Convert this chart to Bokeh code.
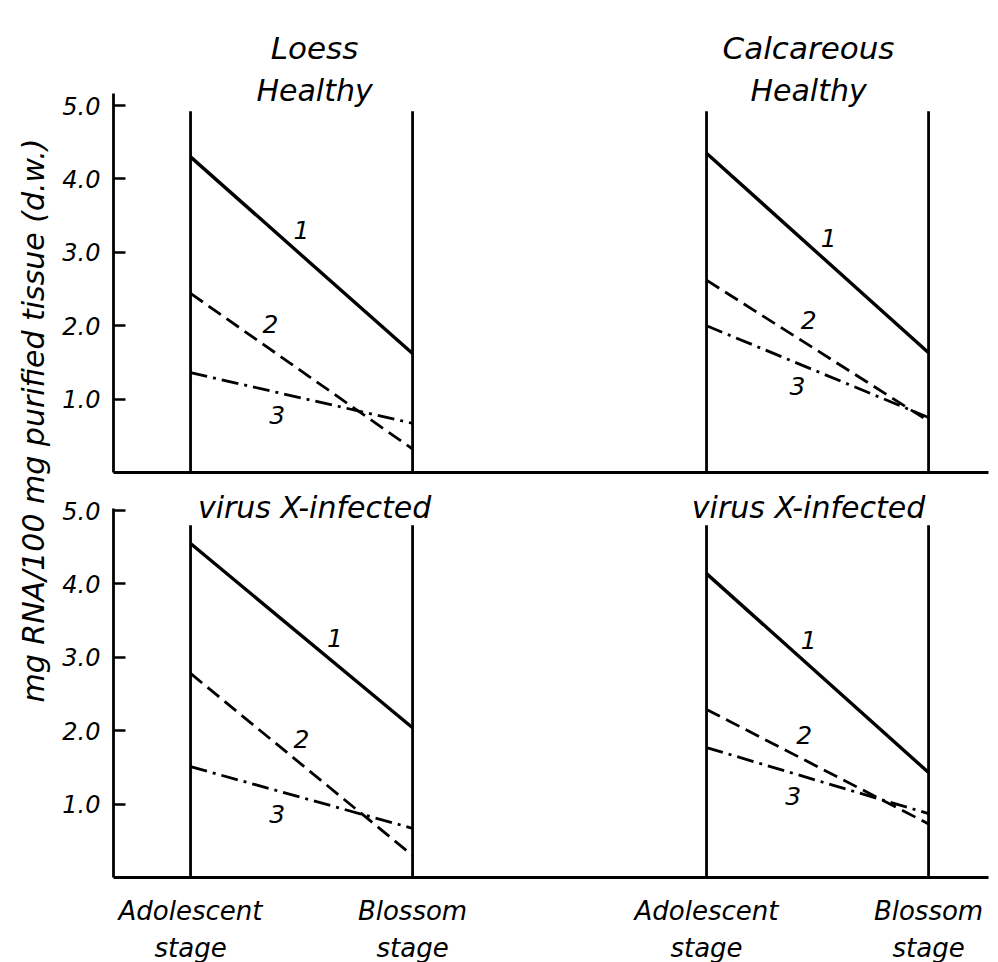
import math
from bokeh.plotting import figure
from bokeh.layouts import row, column
from bokeh.models import Range1d, FixedTicker, NumeralTickFormatter
from bokeh.core.properties import value
from bokeh.embed import file_html
from bokeh.resources import INLINE

# ---------------- data ----------------
soils = ["Loess", "Calcareous"]
conditions = ["Healthy", "virus X-infected"]
stages = ["Adolescent\nstage", "Blossom\nstage"]
series_names = ["1", "2", "3"]
y_ticks = [1.0, 2.0, 3.0, 4.0, 5.0]
y_label = "mg RNA/100 mg purified tissue (d.w.)"

# mg RNA / 100 mg at [adolescent, blossom] for series 1, 2, 3
loess_healthy = [[4.30, 1.62], [2.44, 0.32], [1.36, 0.67]]
calc_healthy = [[4.35, 1.63], [2.62, 0.70], [2.00, 0.75]]
loess_infected = [[4.55, 2.04], [2.78, 0.30], [1.51, 0.67]]
calc_infected = [[4.14, 1.43], [2.29, 0.73], [1.77, 0.87]]

# ---------------- layout / style constants ----------------
FONT = "DejaVu Sans"
soil_offset = [0.0, 2.324]          # x offset of each soil block
stage_pos = [0.0, 1.0]              # x position of stage within block
stage_line_top = [4.92, 4.80]       # height of stage verticals per panel
axis_top = [5.16, 5.03]             # extent of the drawn y axis per panel
dashes = ["solid", "15 7", "17 6 3 6"]
widths = [3.4, 2.8, 2.8]
# position (fraction along line) of the series number labels
label_t = [[[0.50, 0.36, 0.39], [0.55, 0.46, 0.41]],
           [[0.65, 0.50, 0.39], [0.46, 0.44, 0.39]]]
label_dy = [-25, -25, 23]
title_dx = [13, -9]

data = [[loess_healthy, calc_healthy], [loess_infected, calc_infected]]

X_RANGE = (-0.347, 3.594)
PX_PER_UNIT = 73.4
FRAME_W = 875


def style_common(p):
    p.toolbar_location = None
    p.outline_line_color = None
    p.xgrid.visible = False
    p.ygrid.visible = False
    p.background_fill_color = "white"
    p.border_fill_color = "white"


def add_text(p, x, y, txt, size, dx=0, dy=0, baseline="alphabetic"):
    p.text(x=[x], y=[y], text=[txt], x_offset=dx, y_offset=dy,
           text_font=value(FONT), text_font_style="italic",
           text_font_size=size, text_align="center",
           text_baseline=baseline, text_color="black")


def make_panel(ci, frame_h, bottom_border, with_xlabels):
    ymax = frame_h / PX_PER_UNIT
    p = figure(frame_width=FRAME_W, frame_height=frame_h,
               x_range=Range1d(*X_RANGE), y_range=Range1d(0, ymax),
               output_backend="svg", toolbar_location=None,
               min_border_left=57, min_border_right=10,
               min_border_top=0, min_border_bottom=bottom_border)
    style_common(p)

    # y axis
    ya = p.yaxis[0]
    ya.bounds = (0, axis_top[ci])
    ya.ticker = FixedTicker(ticks=y_ticks)
    ya.formatter = NumeralTickFormatter(format="0.0")
    ya.major_tick_in = 12
    ya.major_tick_out = 0
    ya.minor_tick_line_color = None
    ya.axis_line_width = 2.8
    ya.major_tick_line_width = 2.4
    ya.major_label_text_font = FONT
    ya.major_label_text_font_style = "italic"
    ya.major_label_text_font_size = "24px"
    ya.major_label_text_color = "black"
    ya.major_label_standoff = 13

    # x axis
    xa = p.xaxis[0]
    xa.axis_line_width = 2.8
    xa.major_tick_in = 0
    xa.major_tick_out = 0
    xa.minor_tick_line_color = None
    if with_xlabels:
        ticks = [so + sp for so in soil_offset for sp in stage_pos]
        xa.ticker = FixedTicker(ticks=ticks)
        xa.major_label_overrides = {t: stages[i % 2] for i, t in enumerate(ticks)}
        xa.major_label_text_font = FONT
        xa.major_label_text_font_style = "italic"
        xa.major_label_text_font_size = "26px"
        xa.major_label_text_color = "black"
        xa.major_label_text_line_height = 1.25
        xa.major_label_standoff = 18
    else:
        xa.ticker = FixedTicker(ticks=[])
        xa.major_label_text_font_size = "0px"
        xa.major_label_standoff = 0

    for si in range(2):
        x0 = soil_offset[si] + stage_pos[0]
        x1 = soil_offset[si] + stage_pos[1]
        # stage verticals
        for xs in (x0, x1):
            p.line([xs, xs], [0, stage_line_top[ci]], line_color="black",
                   line_width=2.8)
        # series lines
        for k, vals in enumerate(data[ci][si]):
            p.line([x0, x1], vals, line_color="black", line_width=widths[k],
                   line_dash=dashes[k])
            t = label_t[ci][si][k]
            lx = x0 + t * (x1 - x0)
            ly = vals[0] + t * (vals[1] - vals[0])
            add_text(p, lx, ly, series_names[k], "25px", dy=label_dy[k],
                     baseline="middle")
    return p


# top panel: healthy
top = make_panel(0, 472, 5, False)
for si in range(2):
    xm = soil_offset[si] + 0.5 * (stage_pos[0] + stage_pos[1])
    add_text(top, xm, 5.79, soils[si], "31px", dx=title_dx[si])
    add_text(top, xm, 5.20, conditions[0], "30px", dx=title_dx[si])

# bottom panel: infected
bottom = make_panel(1, 400, 85, True)
for si in range(2):
    xm = soil_offset[si] + 0.5 * (stage_pos[0] + stage_pos[1])
    add_text(bottom, xm, 5.04, conditions[1], "30px", dx=title_dx[si])

# left strip carrying the shared y-axis title
lab = figure(width=56, height=962, x_range=Range1d(0, 56), y_range=Range1d(962, 0),
             x_axis_type=None, y_axis_type=None, output_backend="svg",
             toolbar_location=None, min_border=0)
style_common(lab)
lab.text(x=[33], y=[420], text=[y_label], angle=math.pi / 2,
         text_font=value(FONT), text_font_style="italic", text_font_size="30px",
         text_align="center", text_baseline="middle", text_color="black")

layout = row(lab, column(top, bottom))
open("out.html", "w").write(file_html(layout, INLINE))
